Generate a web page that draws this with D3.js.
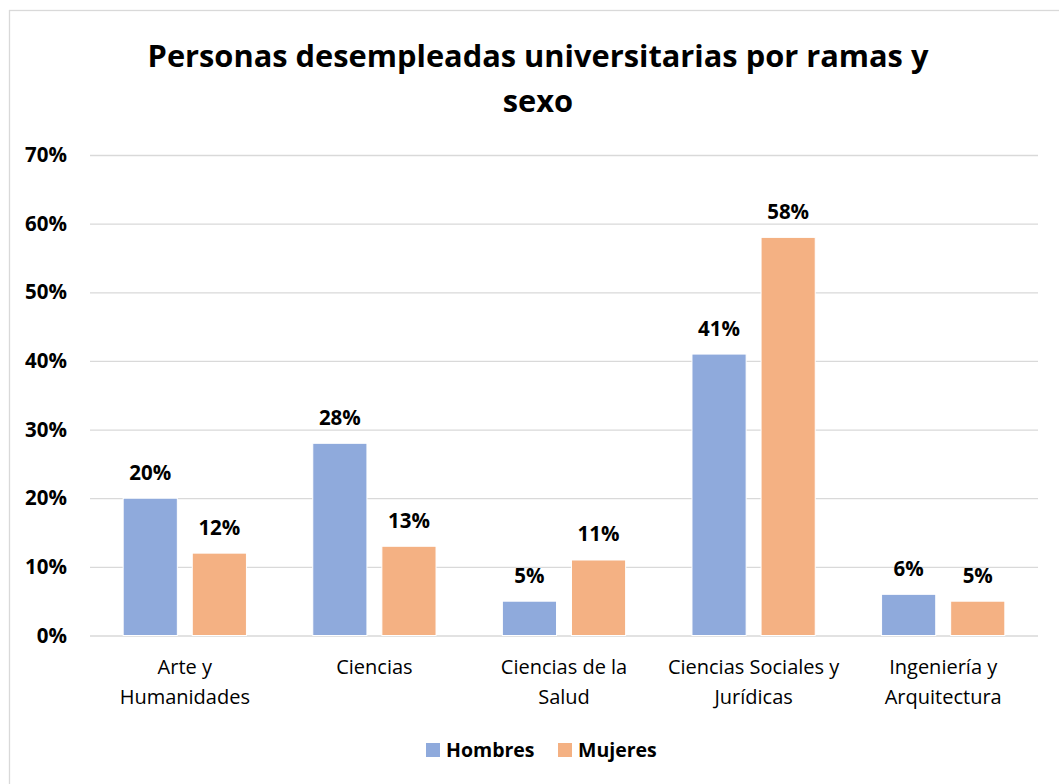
<!DOCTYPE html>
<html>
<head>
<meta charset="utf-8">
<script src="https://cdn.jsdelivr.net/npm/d3@7"></script>
<style>
  html, body { margin: 0; padding: 0; background: #ffffff; }
  svg { display: block; font-family: "Open Sans", "Noto Sans", sans-serif; }
</style>
</head>
<body>
<svg id="chart" width="1059" height="784"></svg>
<script>
const categories = [["Arte y", "Humanidades"], ["Ciencias"], ["Ciencias de la", "Salud"], ["Ciencias Sociales y", "Jurídicas"], ["Ingeniería y", "Arquitectura"]];
const seriesNames = ["Hombres", "Mujeres"];
const hombres = [0.20, 0.28, 0.05, 0.41, 0.06];
const mujeres = [0.12, 0.13, 0.11, 0.58, 0.05];
const yTicks = [0, 0.1, 0.2, 0.3, 0.4, 0.5, 0.6, 0.7];
const titleLines = ["Personas desempleadas universitarias por ramas y", "sexo"];
const colors = ["#8FAADC", "#F4B183"];

const svg = d3.select("#chart");
svg.append("rect").attr("width", 1059).attr("height", 784).attr("fill", "#fff");
svg.append("rect").attr("x", 9.5).attr("y", 10.5).attr("width", 1100).attr("height", 900)
  .attr("fill", "none").attr("stroke", "#d9d9d9").attr("stroke-width", 1.3);

const catKeys = categories.map(c => c.join(" "));
const x = d3.scaleBand().domain(catKeys).range([90, 1038]).paddingInner(0).paddingOuter(0);
const x1 = d3.scaleBand().domain(seriesNames).range([0, x.bandwidth()]).paddingInner(0.216).paddingOuter(0.48);
const y = d3.scaleLinear().domain([0, 0.7]).range([635.5, 155]);
const fmt = d3.format(".0%");

// title
svg.append("g").selectAll("text").data(titleLines).join("text")
  .attr("x", 538).attr("y", (d, i) => 67 + i * 45)
  .attr("text-anchor", "middle").attr("font-weight", "bold").attr("font-size", 30.8)
  .attr("fill", "#000").text(d => d);

// gridlines + y axis
const yAxis = d3.axisLeft(y).tickValues(yTicks).tickFormat(fmt).tickSize(-(1038 - 90)).tickPadding(23);
const gy = svg.append("g").attr("transform", "translate(90,0)").call(yAxis);
gy.select(".domain").remove();
gy.selectAll(".tick line").attr("stroke", "#d9d9d9").attr("stroke-width", 1.3);
gy.selectAll(".tick text").attr("font-size", 20.5).attr("font-weight", "bold").attr("fill", "#000")
  .attr("font-family", "\"Open Sans\", sans-serif");

// bars
const data = catKeys.map((k, i) => ({ key: k, values: [hombres[i], mujeres[i]] }));
const groups = svg.append("g").selectAll("g").data(data).join("g")
  .attr("transform", d => `translate(${x(d.key)},0)`);
groups.selectAll("rect").data(d => d.values.map((v, j) => ({ s: seriesNames[j], v, j })))
  .join("rect")
  .attr("x", d => x1(d.s)).attr("width", x1.bandwidth())
  .attr("y", d => y(d.v)).attr("height", d => y(0) - y(d.v))
  .attr("fill", d => colors[d.j]).attr("stroke", "#fff").attr("stroke-width", 1);
groups.selectAll("text").data(d => d.values.map((v, j) => ({ s: seriesNames[j], v, j })))
  .join("text")
  .attr("x", d => x1(d.s) + x1.bandwidth() / 2).attr("y", d => y(d.v) - 18.5)
  .attr("text-anchor", "middle").attr("font-size", 20.5).attr("font-weight", "bold").attr("fill", "#000")
  .text(d => fmt(d.v));

// category labels
const xl = svg.append("g").selectAll("text").data(categories).join("text")
  .attr("x", (d, i) => x(catKeys[i]) + x.bandwidth() / 2)
  .attr("y", 674).attr("text-anchor", "middle").attr("font-size", 20).attr("fill", "#000");
xl.selectAll("tspan").data(d => d).join("tspan")
  .attr("x", function() { return this.parentNode.getAttribute("x"); })
  .attr("dy", (d, i) => i === 0 ? 0 : 29.5).text(d => d);

// legend
const legendX = [426, 558];
const lg = svg.append("g").selectAll("g").data(seriesNames).join("g")
  .attr("transform", (d, i) => `translate(${legendX[i]},743)`);
lg.append("rect").attr("width", 14).attr("height", 14).attr("fill", (d, i) => colors[i]);
lg.append("text").attr("x", 20).attr("y", 14).attr("font-size", 19.5).attr("font-weight", "bold")
  .attr("fill", "#000").text(d => d);
</script>
</body>
</html>
